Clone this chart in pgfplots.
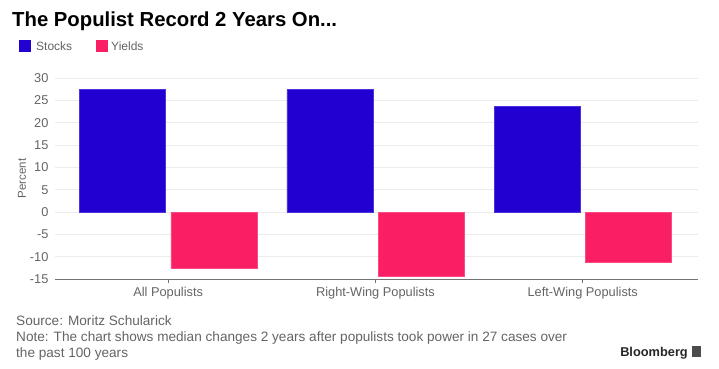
\documentclass[border=0pt]{standalone}
\usepackage{pgfplots}
\pgfplotsset{compat=1.18}
\usepackage{fontspec}
\setmainfont{Liberation Sans}
\definecolor{stk}{RGB}{34,0,210}
\definecolor{yld}{RGB}{250,30,100}
\definecolor{txt}{RGB}{100,100,100}
\definecolor{gridc}{RGB}{236,236,236}
\begin{document}
\begin{tikzpicture}[x=1pt,y=1pt]
\useasboundingbox (0pt,0pt) rectangle (719pt,368pt);
\node[anchor=base west,font=\fontsize{20.3}{23}\selectfont\bfseries,inner sep=0] at (12pt,342pt) {The Populist Record 2 Years On...};
\fill[stk] (19pt,316pt) rectangle (31pt,328pt);
\node[anchor=base west,font=\fontsize{12}{14}\selectfont,text=txt,inner sep=0] at (36pt,317.5pt) {Stocks};
\fill[yld] (96pt,316pt) rectangle (108pt,328pt);
\node[anchor=base west,font=\fontsize{12}{14}\selectfont,text=txt,inner sep=0] at (111pt,317.5pt) {Yields};
\begin{axis}[
  at={(55pt,89pt)}, anchor=south west,
  scale only axis, width=643pt, height=201pt,
  xmin=-0.546, xmax=2.556, ymin=-15, ymax=30,
  xtick={0,1,2}, xticklabels={All Populists,Right-Wing Populists,Left-Wing Populists},
  ytick={-15,-10,-5,0,5,10,15,20,25,30},
  ymajorgrids, grid style={gridc, line width=0.8pt},
  axis x line*=bottom, axis y line*=left,
  y axis line style={draw=none},
  x axis line style={draw=black!55, line width=0.8pt, -},
  ytick style={draw=none},
  xtick style={draw=black!55, line width=0.8pt},
  tick align=outside, major tick length=4pt,
  ticklabel style={font=\fontsize{12.8}{14}\selectfont, text=txt},
  yticklabel style={xshift=1pt},
  xticklabel style={yshift=-1pt},
  /pgf/number format/assume math mode=true,
  ylabel={Percent}, ylabel style={font=\fontsize{11.5}{13}\selectfont, text=txt, at={(axis description cs:-0.0513,0.5)}, anchor=center, rotate=0},
  ybar, bar width=0.415,
  clip=false,
]
\addplot[fill=stk, draw=stk!80!white, bar shift=-0.22] coordinates {(0,27.5) (1,27.4) (2,23.6)};
\addplot[fill=yld, draw=yld!80!white, bar shift=0.22] coordinates {(0,-12.6) (1,-14.4) (2,-11.3)};
\end{axis}
\node[anchor=base west,font=\fontsize{13.6}{15}\selectfont,text=txt,inner sep=0] at (16pt,43pt) {Source: Moritz Schularick};
\node[anchor=base west,font=\fontsize{13.6}{15}\selectfont,text=txt,inner sep=0] at (16pt,27pt) {Note: The chart shows median changes 2 years after populists took power in 27 cases over};
\node[anchor=base west,font=\fontsize{13.6}{15}\selectfont,text=txt,inner sep=0] at (16pt,11pt) {the past 100 years};
\node[anchor=base east,font=\fontsize{12.8}{14}\selectfont\bfseries,text=black!85,inner sep=0] at (688pt,12pt) {Bloomberg};
\fill[black!70] (692pt,11pt) rectangle (701pt,22pt);
\end{tikzpicture}
\end{document}
